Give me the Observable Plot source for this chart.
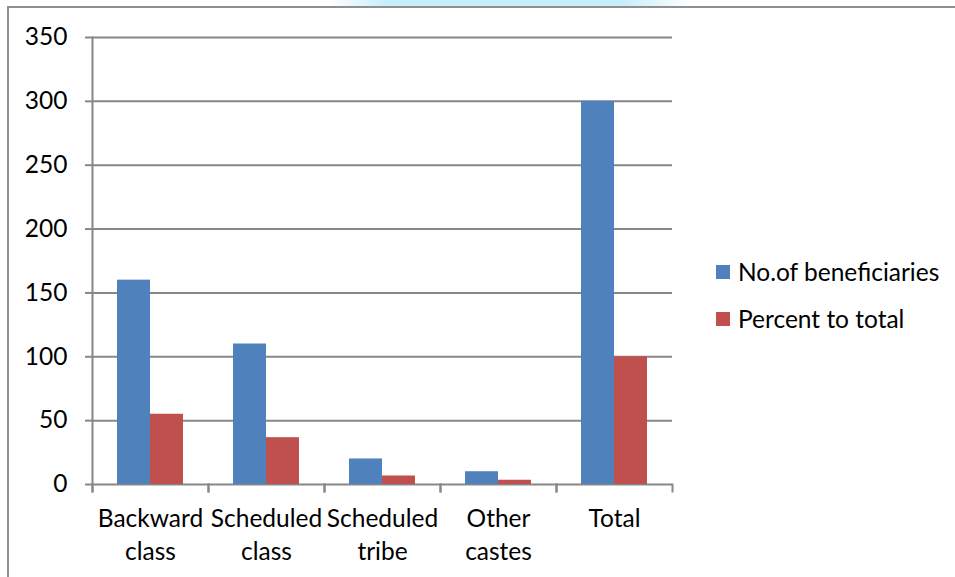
<!DOCTYPE html>
<html>
<head>
<meta charset="utf-8">
<script src="https://cdn.jsdelivr.net/npm/d3@7"></script>
<script src="https://cdn.jsdelivr.net/npm/@observablehq/plot@0.6"></script>
<style>
  html, body { margin: 0; padding: 0; background: #fff; }
  #wrap { position: relative; width: 955px; height: 577px; font-family: Lato, "Open Sans", sans-serif; }
  #topband { position: absolute; left: 330px; top: 0; width: 360px; height: 7px;
    background: linear-gradient(to right, #ffffff 0%, #c9eefb 15%, #c9eefb 82%, #ffffff 100%); }
  #border { position: absolute; left: 7px; top: 6px; right: 0; bottom: 0;
    border-left: 2px solid #8f8f8f; border-top: 2px solid #8f8f8f; }
  #chart { position: absolute; left: 0; top: 0; width: 955px; height: 577px; }
  #legend { position: absolute; left: 716px; top: 255px; width: 235px; font-size: 24.5px; line-height: 34px; color: #000; }
  #legend .item { display: flex; align-items: center; height: 34px; margin-bottom: 13px; white-space: nowrap; }
  #legend .swatch { flex: none; width: 14px; height: 14px; margin-right: 8px; }
</style>
</head>
<body>
<div id="wrap">
  <div id="topband"></div>
  <div id="border"></div>
  <div id="chart"></div>
  <div id="legend"></div>
</div>
<script>
// Beneficiaries by social group
const categories = ["Backward class", "Scheduled class", "Scheduled tribe", "Other castes", "Total"];
const beneficiaries = [160, 110, 20, 10, 300];
const percentToTotal = [55, 36.67, 6.67, 3.33, 100];
const seriesNames = ["No.of beneficiaries", "Percent to total"];
const seriesColors = ["#4F81BD", "#C0504D"];
const yTicks = [0, 50, 100, 150, 200, 250, 300, 350];

const rows = categories.flatMap((category, i) => [
  {category, series: seriesNames[0], value: beneficiaries[i]},
  {category, series: seriesNames[1], value: percentToTotal[i]}
]);

const width = 955, height = 577;
const marginTop = 37, marginBottom = 93, marginLeft = 91, marginRight = 282;
const innerHeight = height - marginTop - marginBottom;
const axisGray = "#878787";
const tickLen = 7;
const labelSize = 24.5;

const chart = Plot.plot({
  width, height, marginTop, marginBottom, marginLeft, marginRight,
  style: {fontFamily: "Lato, 'Open Sans', sans-serif", fontSize: "24px", color: "#000", background: "transparent"},
  fx: {domain: categories, padding: 0, label: null},
  x: {domain: seriesNames, paddingInner: 0, paddingOuter: 0.75, axis: null},
  y: {domain: [0, 350], label: null},
  color: {domain: seriesNames, range: seriesColors},
  marks: [
    // horizontal gridlines, including the baseline
    Plot.ruleY(yTicks, {stroke: axisGray, strokeWidth: 2}),
    // vertical axis line
    Plot.frame({anchor: "left", facet: "super", stroke: axisGray, strokeWidth: 2, insetBottom: -tickLen}),
    // tick marks between categories
    Plot.frame({anchor: "left", stroke: axisGray, strokeWidth: 2, insetTop: innerHeight, insetBottom: -tickLen}),
    Plot.frame({anchor: "right", stroke: axisGray, strokeWidth: 2, insetTop: innerHeight, insetBottom: -tickLen}),
    Plot.barY(rows, {fx: "category", x: "series", y: "value", fill: "series"}),
    Plot.axisY({ticks: yTicks, tickSize: tickLen, tickPadding: 18, stroke: axisGray, strokeWidth: 2, fill: "#000", label: null, fontSize: labelSize}),
    // category names wrap onto two lines
    Plot.axisFx({anchor: "bottom", tickSize: 0, tickPadding: 20, label: null, fontSize: labelSize, lineHeight: 1.32, fill: "#000",
      tickFormat: d => d.replace(" ", "\n")})
  ]
});
document.getElementById("chart").appendChild(chart);

const legend = document.getElementById("legend");
seriesNames.forEach((name, i) => {
  const item = document.createElement("div");
  item.className = "item";
  const sw = document.createElement("span");
  sw.className = "swatch";
  sw.style.background = seriesColors[i];
  const label = document.createElement("span");
  label.textContent = name;
  item.appendChild(sw);
  item.appendChild(label);
  legend.appendChild(item);
});
</script>
</body>
</html>
